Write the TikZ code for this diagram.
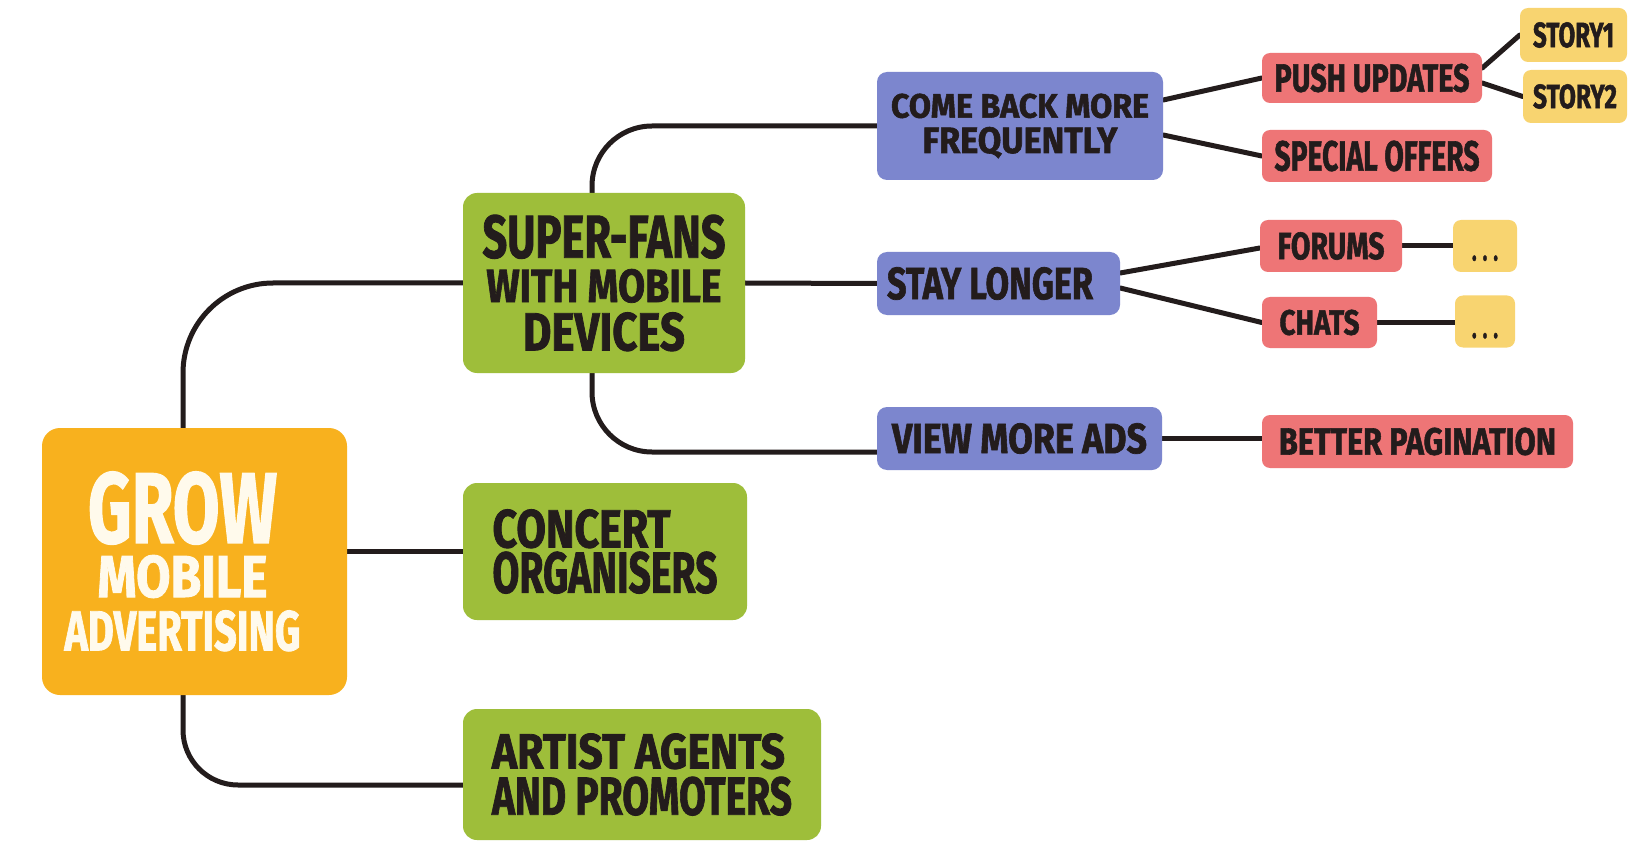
\documentclass[tikz,border=0pt]{standalone}
\usepackage{fontspec}
\setmainfont{Fira Sans}[BoldFeatures={FakeBold=1.6}]
\usepackage{graphicx}
\usetikzlibrary{backgrounds}
\definecolor{cOrange}{RGB}{248,177,30}
\definecolor{cGreen}{RGB}{158,190,58}
\definecolor{cBlue}{RGB}{124,134,206}
\definecolor{cRed}{RGB}{238,117,118}
\definecolor{cYellow}{RGB}{248,212,112}
\definecolor{ink}{RGB}{35,28,28}
\definecolor{cream}{RGB}{255,250,236}
\newcommand\txl[3]{\resizebox{#1pt}{#2pt}{\fontsize{20}{24}\selectfont\bfseries #3}}
\newcommand\stkc[1]{\begin{tabular}{@{}c@{}}#1\end{tabular}}
\newcommand\stkl[1]{\begin{tabular}{@{}l@{}}#1\end{tabular}}
\begin{document}
\begin{tikzpicture}[x=1pt,y=-1pt,
  mbox/.style={inner sep=0pt, rounded corners=14pt, text=ink,
    font=\fontsize{1pt}{1pt}\selectfont},
  orangebox/.style={mbox, fill=cOrange, text=cream, rounded corners=18pt},
  greenbox/.style={mbox, fill=cGreen},
  bluebox/.style={mbox, fill=cBlue, rounded corners=10pt},
  redbox/.style={mbox, fill=cRed, rounded corners=8pt},
  yelbox/.style={mbox, fill=cYellow, rounded corners=8pt},
  conn/.style={line width=5pt, draw=ink, line cap=round}]
\useasboundingbox (0,0) rectangle (1630,842);

% main nodes
\node[orangebox, minimum width=305pt, minimum height=267pt] (grow) at (194.5,561.5)
  {\stkc{\txl{189}{71}{GROW}\\[12pt]\txl{170}{42}{MOBILE}\\[13pt]\txl{236}{40}{ADVERTISING}}\hspace*{24pt}};
\node[greenbox, minimum width=282pt, minimum height=180pt] (sf) at (604,283)
  {\stkc{\txl{243}{43}{SUPER-FANS}\\[11pt]\txl{235}{33}{WITH MOBILE}\\[10pt]\txl{162}{38}{DEVICES}}};
\node[greenbox, minimum width=284pt, minimum height=137pt] (concert) at (605,551.5)
  {\stkl{\txl{178}{38}{CONCERT}\\[4pt]\txl{225}{41}{ORGANISERS}}};
\node[greenbox, minimum width=358pt, minimum height=131pt] (artist) at (642,774.5)
  {\stkl{\txl{293}{35}{ARTIST AGENTS}\\[8pt]\txl{300}{38}{AND PROMOTERS}}};

\node[bluebox, minimum width=286pt, minimum height=108pt] (cb) at (1020,126)
  {\stkc{\txl{258}{24}{COME BACK MORE}\\[9pt]\txl{195}{26}{FREQUENTLY}}};
\node[bluebox, minimum width=243pt, minimum height=63pt] (stay) at (998.5,283.5)
  {\txl{206}{32}{STAY LONGER}\hspace*{17pt}};
\node[bluebox, minimum width=285pt, minimum height=63pt] (view) at (1019.5,438.5)
  {\txl{255}{30}{VIEW MORE ADS}};

\node[redbox, minimum width=220pt, minimum height=50pt] (push) at (1372,78)
  {\txl{195}{28}{PUSH UPDATES}};
\node[redbox, minimum width=230pt, minimum height=52pt] (special) at (1377,156)
  {\txl{205}{30}{SPECIAL OFFERS}};
\node[redbox, minimum width=142pt, minimum height=52pt] (forums) at (1331,246)
  {\txl{107}{27}{FORUMS}};
\node[redbox, minimum width=115pt, minimum height=51pt] (chats) at (1319.5,322.5)
  {\txl{80}{25}{CHATS}};
\node[redbox, minimum width=311pt, minimum height=53pt] (better) at (1417.5,441.5)
  {\txl{277}{27}{BETTER PAGINATION}};

\node[yelbox, minimum width=107pt, minimum height=54pt] (s1) at (1573.5,35)
  {\txl{81}{25}{STORY1}};
\node[yelbox, minimum width=104pt, minimum height=53pt] (s2) at (1575,96.5)
  {\txl{84}{24}{STORY2}};
\node[yelbox, minimum width=64pt, minimum height=52pt] (d1) at (1485,246)
  {\vbox to 52pt{\vfill\hbox{\txl{26}{5}{. . .}}\vskip 11pt}};
\node[yelbox, minimum width=60pt, minimum height=52pt] (d2) at (1485,321.5)
  {\vbox to 52pt{\vfill\hbox{\txl{26}{5}{. . .}}\vskip 9pt}};

\begin{scope}[on background layer]
\fill[white] (0,0) rectangle (1630,842);
\draw[conn, rounded corners=90pt] ([xshift=-11.5pt]grow.north) |- (sf.west);
\draw[conn] (grow.east |- concert.west) -- (concert.west);
\draw[conn, rounded corners=55pt] ([xshift=-11.5pt]grow.south) |- ([yshift=-10.5pt]artist.west);
\draw[conn, rounded corners=60pt] ([xshift=-12pt]sf.north) |- (cb.west);
\draw[conn] (sf.east) -- (stay.west);
\draw[conn, rounded corners=60pt] ([xshift=-12pt]sf.south) |- ([yshift=-13.5pt]view.west);
\draw[conn] ([yshift=26pt]cb.east) -- (push.west);
\draw[conn] ([yshift=-9pt]cb.east) -- (special.west);
\draw[conn] ([yshift=10pt]push.east) -- (s1.west);
\draw[conn] ([yshift=-5pt]push.east) -- (s2.west);
\draw[conn] ([yshift=10.5pt]stay.east) -- ([yshift=-2pt]forums.west);
\draw[conn] ([yshift=-4.5pt]stay.east) -- (chats.west);
\draw[conn] (forums.east) -- (d1.west);
\draw[conn] (chats.east) -- (chats.east -| d2.west);
\draw[conn] (view.east) -- (view.east -| better.west);
\end{scope}
\end{tikzpicture}
\end{document}
